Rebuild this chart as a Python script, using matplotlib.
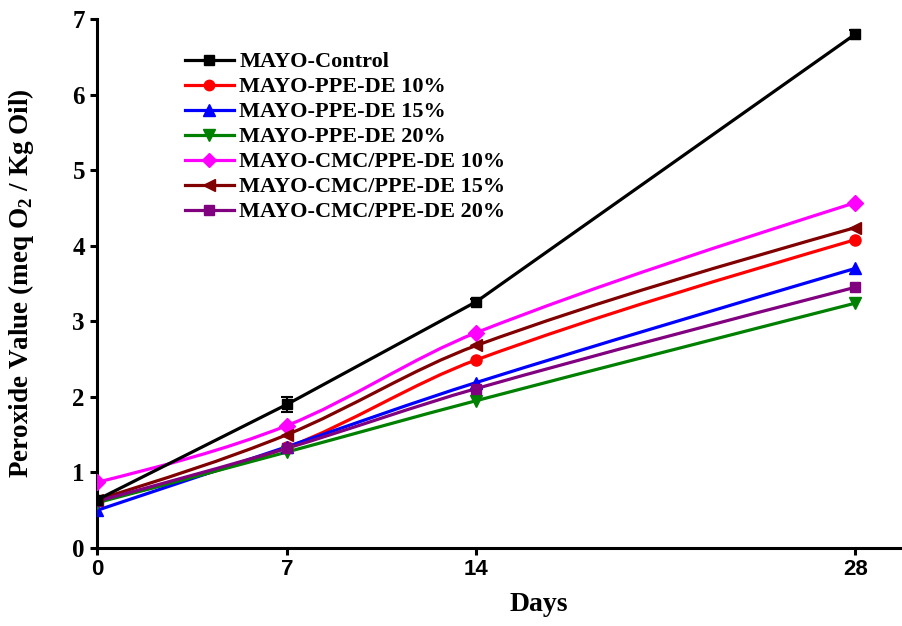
import numpy as np
import matplotlib
matplotlib.use("Agg")
import matplotlib.pyplot as plt
from matplotlib.path import Path
from matplotlib.patches import PathPatch
from matplotlib.lines import Line2D

plt.rcParams['mathtext.fontset'] = 'custom'
plt.rcParams['mathtext.rm'] = 'Liberation Serif:bold'
plt.rcParams['mathtext.bf'] = 'Liberation Serif:bold'

# storage days
days = [0, 7, 14, 28]

# peroxide value, meq O2 / kg oil
control = [0.64, 1.90, 3.26, 6.80]
control_err = [0.03, 0.10, 0.04, 0.06]
ppe10 = [0.62, 1.33, 2.49, 4.08]
ppe15 = [0.50, 1.34, 2.19, 3.70]
ppe20 = [0.60, 1.27, 1.95, 3.24]
cmc10 = [0.87, 1.62, 2.85, 4.57]
cmc15 = [0.64, 1.50, 2.68, 4.24]
cmc20 = [0.62, 1.32, 2.11, 3.45]

names = ["MAYO-Control", "MAYO-PPE-DE 10%", "MAYO-PPE-DE 15%", "MAYO-PPE-DE 20%",
         "MAYO-CMC/PPE-DE 10%", "MAYO-CMC/PPE-DE 15%", "MAYO-CMC/PPE-DE 20%"]
series = [control, ppe10, ppe15, ppe20, cmc10, cmc15, cmc20]
colors = ["black", "#ff0000", "#0000ff", "#008000", "#ff00ff", "#800000", "#800080"]
markers = ["s", "o", "^", "v", "D", "<", "s"]
msizes = [7.5, 8, 8.5, 8.5, 8, 8.5, 7.5]

def spline_path(x, y):
    # cubic hermite curve through the points, drawn as bezier segments
    x = np.asarray(x, float)
    y = np.asarray(y, float)
    n = len(x)
    m = np.zeros(n)
    for i in range(1, n - 1):
        m[i] = (y[i + 1] - y[i - 1]) / (x[i + 1] - x[i - 1])
    d0 = (y[1] - y[0]) / (x[1] - x[0])
    dn = (y[-1] - y[-2]) / (x[-1] - x[-2])
    m[0] = (3 * d0 - m[1]) / 2
    m[-1] = (3 * dn - m[-2]) / 2
    verts = [(x[0], y[0])]
    codes = [Path.MOVETO]
    for i in range(n - 1):
        h = x[i + 1] - x[i]
        verts += [(x[i] + h / 3, y[i] + m[i] * h / 3),
                  (x[i + 1] - h / 3, y[i + 1] - m[i + 1] * h / 3),
                  (x[i + 1], y[i + 1])]
        codes += [Path.CURVE4] * 3
    return Path(verts, codes)

fig = plt.figure(figsize=(9.02, 6.26), dpi=100)
ax = fig.add_axes([0.108, 0.1246, 0.8897, 0.845])

lw = 2.3
handles = []
for i, (name, vals) in enumerate(zip(names, series)):
    if i == 0:
        ax.errorbar(days, vals, yerr=control_err, color=colors[i], lw=lw,
                    marker=markers[i], ms=msizes[i], capsize=4, elinewidth=1.5,
                    capthick=1.5, zorder=3)
    else:
        ax.add_patch(PathPatch(spline_path(days, vals), fill=False,
                               edgecolor=colors[i], lw=lw, zorder=2))
        ax.plot(days, vals, linestyle="none", marker=markers[i], ms=msizes[i],
                color=colors[i], zorder=3)
    handles.append(Line2D([], [], color=colors[i], lw=lw, marker=markers[i],
                          ms=msizes[i] - 0.5))

ax.set_xlim(0, 29.65)
ax.set_ylim(0, 7)
ax.set_xticks(days)
ax.set_yticks(range(0, 8))

for side in ["top", "right"]:
    ax.spines[side].set_visible(False)
for side in ["left", "bottom"]:
    ax.spines[side].set_linewidth(2.2)
ax.tick_params(axis="both", direction="out", length=5, width=2.2)
ax.tick_params(axis="x", pad=3)
ax.tick_params(axis="y", pad=4)

for lab in ax.get_xticklabels():
    lab.set_fontfamily("Liberation Sans")
    lab.set_fontweight("bold")
    lab.set_fontsize(16)
for lab in ax.get_yticklabels():
    lab.set_fontfamily("Liberation Serif")
    lab.set_fontweight("bold")
    lab.set_fontsize(18)

ax.set_xlabel("Days", fontfamily="Liberation Serif", fontweight="bold", fontsize=20)
ax.xaxis.set_label_coords(0.55, -0.083)
ax.set_ylabel(r"Peroxide Value (meq O$_{\mathrm{2}}$ / Kg Oil)",
              fontfamily="Liberation Serif", fontweight="bold", fontsize=19.5)
ax.yaxis.set_label_coords(-0.076, 0.5)

leg = ax.legend(handles, names, loc="upper left", bbox_to_anchor=(0.098, 0.955),
                frameon=False, handlelength=2.2, handletextpad=0.25,
                labelspacing=0.2, borderaxespad=0,
                prop={"family": "Liberation Serif", "weight": "bold", "size": 16})

fig.savefig("out.png", dpi=100)
